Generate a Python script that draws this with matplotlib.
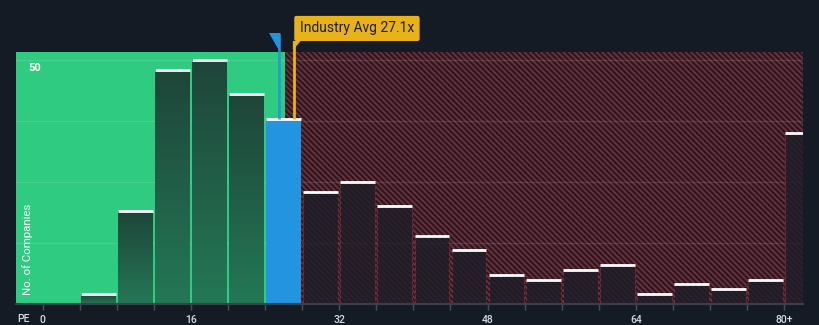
import matplotlib
matplotlib.use("Agg")
import matplotlib.pyplot as plt
import numpy as np
from matplotlib.colors import LinearSegmentedColormap
from matplotlib.patches import Polygon

plt.rcParams['font.family'] = ['Roboto', 'DejaVu Sans']
plt.rcParams['hatch.linewidth'] = 1.3

# PE distribution: bins of width 4, last bin is 80+
bin_edges = list(range(0, 84, 4))
counts = [0, 2, 19, 48, 50, 43, 38, 23, 25, 20, 14, 11, 6, 5, 7, 8, 2, 4, 3, 5, 35]
tick_values = [0, 16, 32, 48, 64, 80]
tick_labels = ['0', '16', '32', '48', '64', '80+']
company_pe = 25.5
industry_avg = 27.1
fair_limit = 26.1

bg = '#151b25'
green = '#2ecb80'
blue = '#2394e0'
yellow = '#e9b21b'

fig = plt.figure(figsize=(8.2, 3.25), dpi=100, facecolor=bg)
ax = fig.add_axes([0.0195, 0.0646, 0.96, 0.775])
ax.set_facecolor(bg)
xmin, xmax = -2.86, 82.04
ymin, ymax = 0, 51.6

# Background zones
ax.axvspan(xmin, fair_limit, color=green, lw=0, zorder=0)
ax.axvspan(fair_limit, xmax, facecolor='#1b1e28', edgecolor='#7d2a33',
           hatch='\\\\\\\\\\\\', lw=0, zorder=0)

for g in [12.5, 25, 37.5, 50]:
    ax.axhline(g, color='white', alpha=0.12, lw=1, zorder=1)

grad_cmap = LinearSegmentedColormap.from_list('bar', ['#247856', '#1e4539'])
grad = np.linspace(0, 1, 256).reshape(-1, 1)

for i, (left, c) in enumerate(zip(bin_edges, counts)):
    if c == 0:
        continue
    x0 = left + 0.12
    w = 3.76
    if left + 4 <= 24:
        ax.imshow(grad, extent=[x0, x0 + w, 0, c], origin='lower', cmap=grad_cmap,
                  aspect='auto', zorder=3)
    elif left == 24:
        ax.bar(x0, c, width=w, align='edge', color=blue, lw=0, zorder=3)
    else:
        ax.bar(x0, c, width=w, align='edge', facecolor='#1c1d27', alpha=0.8,
               edgecolor='#8a2c36', linestyle=(0, (3, 2)), lw=0.8, zorder=3)
    ax.hlines(c, x0, x0 + w, color='white', lw=2, zorder=4)

# Company marker
ax.plot([company_pe, company_pe], [counts[6], 55.5], color=blue, lw=2,
        alpha=0.85, zorder=5, clip_on=False, solid_capstyle='butt')
ax.add_patch(Polygon([[24.4, 55.5], [company_pe + 0.08, 55.5], [company_pe + 0.08, 51.6]],
                     closed=True, color=blue, lw=0, zorder=6, clip_on=False))

# Industry average marker
ax.plot([industry_avg, industry_avg], [counts[6], 53.9], color=yellow, lw=2,
        zorder=5, clip_on=False, solid_capstyle='butt')
ax.add_patch(Polygon([[industry_avg - 0.1, 53.9], [industry_avg + 0.75, 53.9], [industry_avg - 0.1, 52.0]],
                     closed=True, color=yellow, lw=0, zorder=6, clip_on=False))
ax.text(industry_avg + 0.65, 56.45, f'Industry Avg {industry_avg}x', ha='left', va='center',
        fontsize=10, color='#1a1f28', zorder=7, clip_on=False,
        bbox=dict(boxstyle='round,pad=0.4,rounding_size=0.15', fc=yellow, ec='none'))

ax.text(-1.55, 48.3, '50', color='white', fontsize=8, fontweight='bold', va='center', zorder=6)
ax.text(-1.6, 1.8, 'No. of Companies', color='white', fontsize=8.2, rotation=90,
        va='bottom', ha='center', zorder=6)

ax.set_xlim(xmin, xmax)
ax.set_ylim(ymin, ymax)
ax.set_xticks(bin_edges)
ax.set_xticklabels([tick_labels[tick_values.index(v)] if v in tick_values else '' for v in bin_edges],
                   fontweight='medium')
ax.tick_params(axis='x', colors='#4a505a', length=4, width=1, pad=4, labelsize=7.5,
               labelcolor='#d8dce2')
ax.set_yticks([])
for s in ['top', 'right', 'left']:
    ax.spines[s].set_visible(False)
ax.spines['bottom'].set_color('#3a404a')
ax.spines['bottom'].set_linewidth(1.5)
ax.spines['bottom'].set_zorder(8)

fig.text(17 / 820, 1 - 319 / 325, 'PE', color='#d8dce2', fontsize=7.5, fontweight='medium',
         va='center', ha='left')

fig.savefig('out.png', dpi=100, facecolor=bg)
